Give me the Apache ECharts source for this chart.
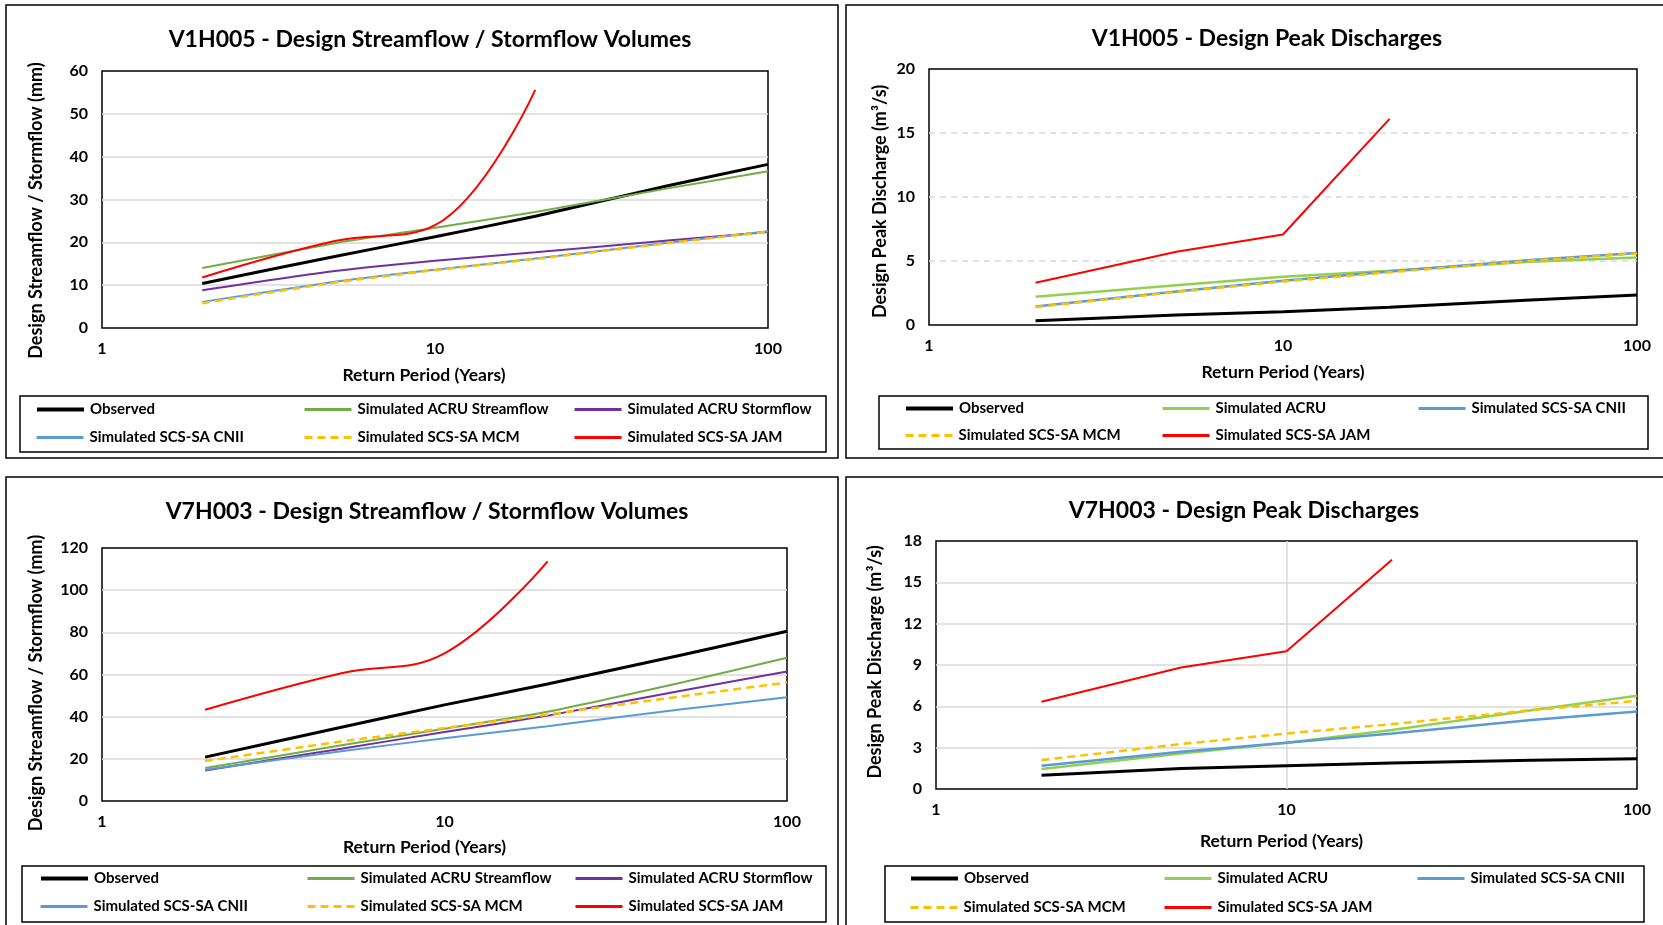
<!DOCTYPE html>
<html><head><meta charset="utf-8">
<script src="https://cdn.jsdelivr.net/npm/echarts@6/dist/echarts.min.js"></script>
<style>html,body{margin:0;padding:0;background:#fff}#c{width:1663px;height:925px}</style>
</head><body><div id="c"></div>
<script>
// ---------------- DATA ----------------
const returnPeriods = [2, 5, 10, 20, 50, 100];
const jamPeriods = [2, 5, 10, 20];

const titles = [
  'V1H005 - Design Streamflow / Stormflow Volumes',
  'V1H005 - Design Peak Discharges',
  'V7H003 - Design Streamflow / Stormflow Volumes',
  'V7H003 - Design Peak Discharges'
];
const xAxisTitle = 'Return Period (Years)';
const yTitleVolume = 'Design Streamflow / Stormflow (mm)';
const yTitlePeak = 'Design Peak Discharge (m\u00B3/s)';

const nObserved = 'Observed';
const nAcruStreamflow = 'Simulated ACRU Streamflow';
const nAcruStormflow = 'Simulated ACRU Stormflow';
const nAcru = 'Simulated ACRU';
const nCnii = 'Simulated SCS-SA CNII';
const nMcm = 'Simulated SCS-SA MCM';
const nJam = 'Simulated SCS-SA JAM';

// V1H005 volumes (mm)
const v1Observed = [10.4, 16.7, 21.3, 26.1, 33.2, 38.2];
const v1AcruStreamflow = [14.0, 19.8, 23.4, 27.1, 32.6, 36.6];
const v1AcruStormflow = [8.8, 13.3, 15.7, 17.7, 20.4, 22.4];
const v1Cnii = [6.1, 10.8, 13.6, 16.2, 19.9, 22.6];
const v1Mcm = [5.8, 10.6, 13.5, 16.1, 19.8, 22.5];
const v1Jam = [11.8, 20.3, 24.0, 55.6];

// V1H005 peak discharges (m3/s)
const p1Observed = [0.34, 0.78, 1.04, 1.38, 1.95, 2.34];
const p1Acru = [2.2, 3.1, 3.77, 4.24, 4.94, 5.28];
const p1Cnii = [1.45, 2.62, 3.45, 4.18, 5.08, 5.62];
const p1Mcm = [1.40, 2.58, 3.40, 4.12, 5.02, 5.58];
const p1Jam = [3.3, 5.72, 7.07, 16.1];

// V7H003 volumes (mm)
const v7Observed = [20.8, 35.0, 45.6, 55.5, 69.5, 80.5];
const v7AcruStreamflow = [15.6, 26.4, 34.3, 42.3, 56.4, 67.9];
const v7AcruStormflow = [14.5, 24.8, 32.7, 40.5, 52.5, 61.4];
const v7Cnii = [14.8, 23.6, 29.8, 35.5, 43.6, 49.2];
const v7Mcm = [19.0, 28.2, 34.6, 41.0, 49.8, 56.2];
const v7Jam = [43.3, 60.6, 70.0, 113.7];

// V7H003 peak discharges (m3/s)
const p7Observed = [1.0, 1.48, 1.68, 1.88, 2.08, 2.2];
const p7Acru = [1.45, 2.58, 3.36, 4.28, 5.72, 6.76];
const p7Cnii = [1.69, 2.7, 3.36, 4.03, 5.0, 5.63];
const p7Mcm = [2.1, 3.26, 4.03, 4.71, 5.72, 6.4];
const p7Jam = [6.33, 8.82, 10.0, 16.64];

// y axis ranges
const yMax = [60, 20, 120, 18];
const yStep = [10, 5, 20, 3];

// ---------------- STYLE / LAYOUT ----------------
const FONT = 'Lato';
const C = {
  obs: '#000000', acruSF: '#70AD47', acruST: '#7030A0', acruPeak: '#92D050',
  cnii: '#5B9BD5', mcm: '#FFC000', jam: '#FF0000', grid: '#D9D9D9'
};
const grids = [
  {left: 102, top: 71, width: 666, height: 257},
  {left: 929, top: 69, width: 708, height: 256},
  {left: 102, top: 548, width: 685, height: 253},
  {left: 936, top: 541, width: 701, height: 248}
];
const titlePos = [[425, 23], [1262, 22], [422, 495], [1239, 494]];
const yNameGap = [57, 40, 57, 52];
const xNameGap = [38, 38, 37, 43];
const xNamePad = [[0, 22, 0, 0], [0, 0, 0, 0], [0, 40, 0, 0], [0, 10, 0, 0]];
const yNamePad = [[0, 22, 0, 0], [0, 9, 0, 0], [0, 17, 0, 0], [0, 0, 0, 6]];

function pairs(periods, vals) { return periods.map((p, i) => [p, vals[i]]); }
function ser(name, periods, vals, color, width, gi, smooth, dashed) {
  return {
    type: 'line', name: name, xAxisIndex: gi, yAxisIndex: gi,
    data: pairs(periods, vals), symbol: 'none', showSymbol: false,
    smooth: smooth || false,
    lineStyle: {color: color, width: width, type: dashed ? [8, 5] : 'solid'},
    itemStyle: {color: color}, emphasis: {disabled: true}, animation: false
  };
}
const S = 0.2, SJ = 0.4;

const series = [
  ser(nObserved, returnPeriods, v1Observed, C.obs, 3, 0, S),
  ser(nAcruStreamflow, returnPeriods, v1AcruStreamflow, C.acruSF, 2, 0, S),
  ser(nAcruStormflow, returnPeriods, v1AcruStormflow, C.acruST, 2, 0, S),
  ser(nCnii, returnPeriods, v1Cnii, C.cnii, 2, 0, S),
  ser(nMcm, returnPeriods, v1Mcm, C.mcm, 2.5, 0, S, true),
  ser(nJam, jamPeriods, v1Jam, C.jam, 2, 0, SJ),

  ser(nObserved, returnPeriods, p1Observed, C.obs, 3, 1, false),
  ser(nAcru, returnPeriods, p1Acru, C.acruPeak, 2.5, 1, false),
  ser(nCnii, returnPeriods, p1Cnii, C.cnii, 2.5, 1, false),
  ser(nMcm, returnPeriods, p1Mcm, C.mcm, 2.5, 1, false, true),
  ser(nJam, jamPeriods, p1Jam, C.jam, 2, 1, false),

  ser(nObserved, returnPeriods, v7Observed, C.obs, 3, 2, S),
  ser(nAcruStreamflow, returnPeriods, v7AcruStreamflow, C.acruSF, 2, 2, S),
  ser(nAcruStormflow, returnPeriods, v7AcruStormflow, C.acruST, 2, 2, S),
  ser(nCnii, returnPeriods, v7Cnii, C.cnii, 2, 2, S),
  ser(nMcm, returnPeriods, v7Mcm, C.mcm, 2.5, 2, S, true),
  ser(nJam, jamPeriods, v7Jam, C.jam, 2, 2, SJ),

  ser(nObserved, returnPeriods, p7Observed, C.obs, 3, 3, false),
  ser(nAcru, returnPeriods, p7Acru, C.acruPeak, 2.5, 3, false),
  ser(nCnii, returnPeriods, p7Cnii, C.cnii, 2.5, 3, false),
  ser(nMcm, returnPeriods, p7Mcm, C.mcm, 2.5, 3, false, true),
  ser(nJam, jamPeriods, p7Jam, C.jam, 2, 3, false)
];

const xAxes = grids.map((g, i) => ({
  type: 'log', logBase: 10, min: 1, max: 100, gridIndex: i,
  axisLine: {show: false}, axisTick: {show: false},
  axisLabel: {margin: 13, fontFamily: FONT, fontWeight: 'bold', fontSize: 16, color: '#000'},
  splitLine: {show: i === 3, showMinLine: false, showMaxLine: false, lineStyle: {color: C.grid, width: 1.5}},
  minorTick: {show: false}, minorSplitLine: {show: false},
  name: xAxisTitle, nameLocation: 'middle', nameGap: xNameGap[i],
  nameTextStyle: {fontFamily: FONT, fontWeight: 'bold', fontSize: 17.5, color: '#000', padding: xNamePad[i]}
}));
const yAxes = grids.map((g, i) => ({
  type: 'value', min: 0, max: yMax[i], interval: yStep[i], gridIndex: i,
  axisLine: {show: false}, axisTick: {show: false},
  axisLabel: {margin: 14, fontFamily: FONT, fontWeight: 'bold', fontSize: 16, color: '#000'},
  splitLine: {show: true, showMinLine: false, showMaxLine: false,
    lineStyle: {color: C.grid, width: 1.5, type: i === 1 ? [6, 5] : 'solid'}},
  name: (i % 2 === 0) ? yTitleVolume : yTitlePeak, nameLocation: 'middle', nameGap: yNameGap[i],
  nameTextStyle: {fontFamily: FONT, fontWeight: 'bold', fontSize: 18, color: '#000', padding: yNamePad[i]}
}));

function leg(name, x, y, w) {
  return {
    data: [name], left: x, top: y - 8, itemWidth: 47, itemHeight: 16, itemGap: 0, padding: 0,
    selectedMode: false, itemStyle: {opacity: 0}, lineStyle: {width: w || 3},
    textStyle: {fontFamily: FONT, fontWeight: 'bold', fontSize: 15, color: '#000', padding: [0, 0, 0, 1]}
  };
}
const legends = [
  leg(nObserved, 35, 410, 4), leg(nAcruStreamflow, 303, 410), leg(nAcruStormflow, 573, 410),
  leg(nCnii, 35, 438), leg(nMcm, 303, 438), leg(nJam, 573, 438),

  leg(nObserved, 904, 409, 4), leg(nAcru, 1161, 409), leg(nCnii, 1417, 409),
  leg(nMcm, 904, 436), leg(nJam, 1161, 436),

  leg(nObserved, 39, 879, 4), leg(nAcruStreamflow, 306, 879), leg(nAcruStormflow, 574, 879),
  leg(nCnii, 39, 907), leg(nMcm, 306, 907), leg(nJam, 574, 907),

  leg(nObserved, 909, 879, 4), leg(nAcru, 1163, 879), leg(nCnii, 1416, 879),
  leg(nMcm, 909, 908), leg(nJam, 1163, 908)
];

function box(x, y, w, h, lw) {
  return {type: 'rect', shape: {x: x, y: y, width: w, height: h}, silent: true,
    style: {fill: 'none', stroke: '#000', lineWidth: lw}};
}
const graphics = [
  box(6, 5, 832, 453, 1.5), box(846, 5, 830, 453, 1.5),
  box(6, 477, 832, 460, 1.5), box(846, 477, 830, 460, 1.5),
  box(20, 396, 806, 56, 1.5), box(879, 396, 769, 53, 1.5),
  box(22, 866, 804, 56, 1.5), box(885, 866, 759, 56, 1.5)
];

const chart = echarts.init(document.getElementById('c'), null, {renderer: 'canvas'});
chart.setOption({
  backgroundColor: '#fff',
  animation: false,
  title: titles.map((t, i) => ({
    text: t, left: titlePos[i][0], top: titlePos[i][1], textAlign: 'center',
    textStyle: {fontFamily: FONT, fontWeight: 'bold', fontSize: 23, color: '#000'}
  })),
  grid: grids.map(g => Object.assign({show: true, borderColor: '#000', borderWidth: 1.5, containLabel: false}, g)),
  xAxis: xAxes,
  yAxis: yAxes,
  legend: legends,
  graphic: graphics,
  series: series
});
</script></body></html>
